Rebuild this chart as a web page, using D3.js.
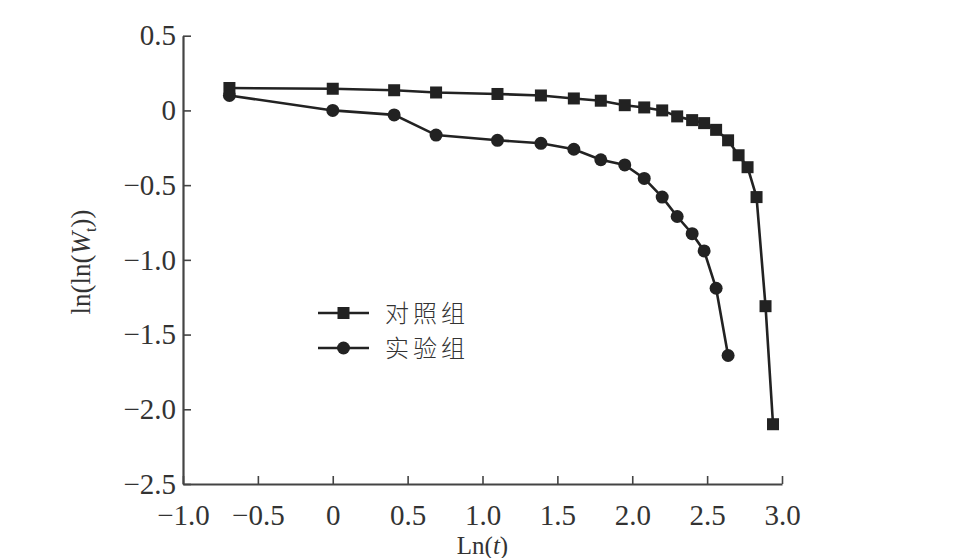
<!DOCTYPE html>
<html>
<head>
<meta charset="utf-8">
<script src="https://cdn.jsdelivr.net/npm/d3@7/dist/d3.min.js"></script>
<style>
  html, body { margin: 0; padding: 0; background: #fff; }
  svg { display: block; }
</style>
</head>
<body>
<svg id="chart" width="960" height="558"></svg>
<script>
// ---- data ----
const controlX = [-0.69, 0, 0.41, 0.69, 1.10, 1.39, 1.61, 1.79, 1.95, 2.08, 2.20, 2.30, 2.40, 2.48, 2.56, 2.64, 2.71, 2.77, 2.83, 2.89, 2.94];
const controlY = [0.15, 0.145, 0.135, 0.12, 0.11, 0.10, 0.08, 0.065, 0.035, 0.02, 0.0, -0.04, -0.065, -0.085, -0.13, -0.20, -0.30, -0.38, -0.58, -1.31, -2.10];
const expX = [-0.69, 0, 0.41, 0.69, 1.10, 1.39, 1.61, 1.79, 1.95, 2.08, 2.20, 2.30, 2.40, 2.48, 2.56, 2.64];
const expY = [0.10, 0.0, -0.03, -0.165, -0.20, -0.22, -0.26, -0.33, -0.365, -0.455, -0.58, -0.71, -0.825, -0.94, -1.19, -1.64];
const xTicks = [-1.0, -0.5, 0, 0.5, 1.0, 1.5, 2.0, 2.5, 3.0];
const yTicks = [0.5, 0, -0.5, -1.0, -1.5, -2.0, -2.5];
const seriesNames = ["对照组", "实验组"];

// ---- layout ----
const svg = d3.select("#chart");
const ink = "#222";
const axisInk = "#444";
const textInk = "#333";
const serif = "'Liberation Serif', 'DejaVu Serif', serif";

const x = d3.scaleLinear().domain([-1, 3]).range([183, 782]);
const y = d3.scaleLinear().domain([-2.5, 0.5]).range([484, 35.7]);

const fmt = d => d === 0 ? "0" : d3.format(".1f")(d);

// y axis
const gy = svg.append("g")
  .attr("transform", `translate(${x(-1)},0)`)
  .call(d3.axisLeft(y).tickValues(yTicks).tickFormat(fmt).tickSize(-8).tickSizeOuter(0).tickPadding(7));
// x axis
const gx = svg.append("g")
  .attr("transform", `translate(0,${y(-2.5)})`)
  .call(d3.axisBottom(x).tickValues(xTicks).tickFormat(fmt).tickSize(-8).tickSizeOuter(0).tickPadding(20));

[gx, gy].forEach(g => {
  g.select(".domain").attr("stroke", axisInk).attr("stroke-width", 2.2);
  g.selectAll(".tick line").attr("stroke", axisInk).attr("stroke-width", 1.6);
  g.selectAll(".tick text")
    .attr("fill", textInk)
    .style("font-family", serif)
    .style("font-size", "29px");
});

// axis titles
svg.append("text")
  .attr("x", x(1.0)).attr("y", 554)
  .attr("text-anchor", "middle")
  .attr("fill", textInk)
  .style("font-family", serif).style("font-size", "25px")
  .html('Ln(<tspan font-style="italic">t</tspan>)');

svg.append("text")
  .attr("transform", `translate(90,262) rotate(-90)`)
  .attr("text-anchor", "middle")
  .attr("fill", textInk)
  .style("font-family", serif).style("font-size", "27px")
  .html('ln(ln(<tspan font-style="italic">W</tspan><tspan font-size="16px" dy="6">t</tspan><tspan dy="-6">))</tspan>');

// series
const line = d3.line().x(d => x(d[0])).y(d => y(d[1]));
const control = controlX.map((v, i) => [v, controlY[i]]);
const exp = expX.map((v, i) => [v, expY[i]]);

svg.append("path").datum(control)
  .attr("d", line).attr("fill", "none").attr("stroke", ink).attr("stroke-width", 2.6);
svg.append("path").datum(exp)
  .attr("d", line).attr("fill", "none").attr("stroke", ink).attr("stroke-width", 2.6);

const sq = 12;
svg.selectAll("rect.ctrl").data(control).enter().append("rect")
  .attr("class", "ctrl")
  .attr("x", d => x(d[0]) - sq / 2).attr("y", d => y(d[1]) - sq / 2)
  .attr("width", sq).attr("height", sq).attr("fill", ink);

svg.selectAll("circle.exp").data(exp).enter().append("circle")
  .attr("class", "exp")
  .attr("cx", d => x(d[0])).attr("cy", d => y(d[1]))
  .attr("r", 6.5).attr("fill", ink);

// legend
const legend = svg.append("g");
const legY = [313, 348];
seriesNames.forEach((name, i) => {
  legend.append("line")
    .attr("x1", 318).attr("x2", 369).attr("y1", legY[i]).attr("y2", legY[i])
    .attr("stroke", ink).attr("stroke-width", 2.6);
  if (i === 0) {
    legend.append("rect").attr("x", 343.5 - sq / 2).attr("y", legY[i] - sq / 2)
      .attr("width", sq).attr("height", sq).attr("fill", ink);
  } else {
    legend.append("circle").attr("cx", 343.5).attr("cy", legY[i]).attr("r", 6.5).attr("fill", ink);
  }
  legend.append("text")
    .attr("x", 385).attr("y", legY[i])
    .attr("dy", "0.36em")
    .attr("fill", textInk)
    .style("font-family", "'Noto Sans CJK SC', sans-serif")
    .style("font-size", "24px")
    .style("font-weight", 300)
    .style("letter-spacing", "4px")
    .text(name);
});
</script>
</body>
</html>
